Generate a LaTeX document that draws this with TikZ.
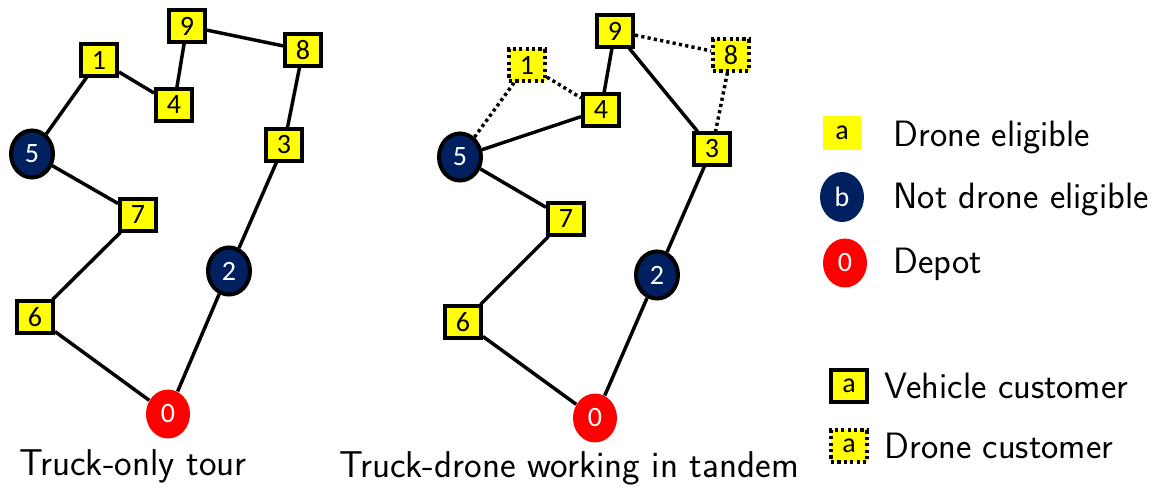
\documentclass[tikz,border=0pt]{standalone}
\usepackage{fontspec}
\usetikzlibrary{shapes.geometric}
\newfontfamily\numfont{Carlito}
\definecolor{eligyellow}{RGB}{255,255,0}
\definecolor{notelignavy}{RGB}{0,32,96}
\definecolor{depotred}{RGB}{255,0,0}
\tikzset{every picture/.style={line width=0.75pt}}
\tikzset{
  vcust/.style={rectangle, fill=eligyellow, draw=black, line width=3pt, minimum width=27pt, minimum height=23.3pt, inner sep=0pt, font=\numfont\fontsize{21}{24}\selectfont},
  dcust/.style={vcust, dash pattern=on 2.4pt off 2.4pt},
  navycust/.style={ellipse, fill=notelignavy, draw=black, line width=3pt, minimum width=31.5pt, minimum height=35.3pt, inner sep=0pt, text=white, font=\numfont\fontsize{21}{24}\selectfont},
  depot/.style={ellipse, fill=depotred, minimum width=33pt, minimum height=36.7pt, inner sep=0pt, text=white, font=\numfont\fontsize{21}{24}\selectfont},
  truckroute/.style={draw=black, line width=2.6pt},
  droneroute/.style={draw=black, line width=2.6pt, dash pattern=on 2.4pt off 2.4pt},
  caption/.style={anchor=base, inner sep=0pt, font=\sffamily\fontsize{28}{32}\selectfont},
  legtext/.style={anchor=base west, inner sep=0pt, font=\sffamily\fontsize{27.5}{32}\selectfont}
}

\begin{document}
\begin{tikzpicture}[x=0.75pt,y=0.75pt,yscale=-1,xscale=1]
\path[use as bounding box] (0,0) rectangle (1158,487);

% Truck-only tour
\node[depot] (l0) at (168,414) {0};
\node[vcust] (l1) at (99,60) {1};
\node[navycust] (l2) at (229,271) {2};
\node[vcust] (l3) at (284,145) {3};
\node[vcust] (l4) at (174,105) {4};
\node[navycust] (l5) at (32,154) {5};
\node[vcust] (l6) at (35,317) {6};
\node[vcust] (l7) at (138,215) {7};
\node[vcust] (l8) at (303,50) {8};
\node[vcust] (l9) at (187,26) {9};
\draw[truckroute] (l0) -- (l6) -- (l7) -- (l5) -- (l1) -- (l4) -- (l9) -- (l8) -- (l3) -- (l2) -- (l0);
\node[caption] (lcap) at (133,475) {Truck-only tour};

% Truck-drone working in tandem
\node[depot] (r0) at (595,418) {0};
\node[dcust] (r1) at (527,65) {1};
\node[navycust] (r2) at (657,275) {2};
\node[vcust] (r3) at (712,149) {3};
\node[vcust] (r4) at (601,110) {4};
\node[navycust] (r5) at (460,157) {5};
\node[vcust] (r6) at (463,322) {6};
\node[vcust] (r7) at (566,219) {7};
\node[dcust] (r8) at (731,55) {8};
\node[vcust] (r9) at (615,31) {9};
\draw[truckroute] (r0) -- (r6) -- (r7) -- (r5) -- (r4) -- (r9) -- (r3) -- (r2) -- (r0);
\draw[droneroute] (r5) -- (r1) -- (r4);
\draw[droneroute] (r9) -- (r8) -- (r3);
\node[caption] (rcap) at (569,477) {Truck-drone working in tandem};

% Legend
\node[vcust, draw=none, minimum width=28.5pt, minimum height=25.5pt] (legelig) at (842,133) {a};
\node[legtext] (legeligtext) at (893,146) {Drone eligible};
\node[navycust, draw=none, minimum width=33pt, minimum height=37.5pt] (legnot) at (842,197) {b};
\node[legtext] (legnottext) at (893,208) {Not drone eligible};
\node[depot] (legdepot) at (845,263) {0};
\node[legtext] (legdepottext) at (893,273) {Depot};
\node[vcust] (legveh) at (849,386) {a};
\node[legtext] (legvehtext) at (884,398) {Vehicle customer};
\node[dcust] (legdrone) at (849,446) {a};
\node[legtext] (legdronetext) at (884,458) {Drone customer};

\end{tikzpicture}
\end{document}
